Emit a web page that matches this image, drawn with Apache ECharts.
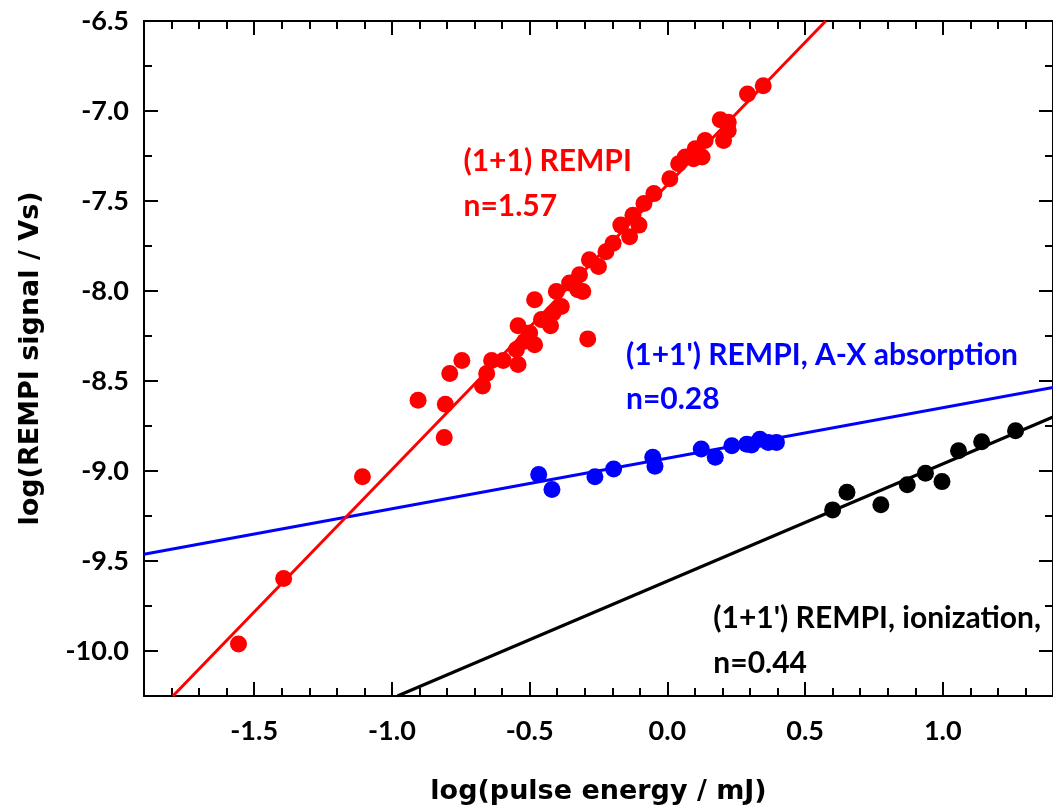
<!DOCTYPE html>
<html><head><meta charset="utf-8">
<script src="https://cdn.jsdelivr.net/npm/echarts@6/dist/echarts.min.js"></script>
<style>html,body{margin:0;padding:0;background:#fff}#c{width:1053px;height:810px}</style>
</head><body><div id="c"></div>
<script>
// ---- data ----
const xMajorTicks = [-1.5, -1.0, -0.5, 0.0, 0.5, 1.0];
const xMinorTicks = [-1.8,-1.7,-1.6,-1.4,-1.3,-1.2,-1.1,-0.9,-0.8,-0.7,-0.6,-0.4,-0.3,-0.2,-0.1,0.1,0.2,0.3,0.4,0.6,0.7,0.8,0.9,1.1,1.2,1.3];
const yMajorTicks = [-10.0, -9.5, -9.0, -8.5, -8.0, -7.5, -7.0, -6.5];
const yMinorTicks = [-10.25, -9.75, -9.25, -8.75, -8.25, -7.75, -7.25, -6.75];

const redPoints = [
  [-1.557,-9.961],[-1.393,-9.597],[-1.107,-9.032],[-0.905,-8.607],[-0.810,-8.814],
  [-0.806,-8.629],[-0.790,-8.458],[-0.746,-8.386],[-0.671,-8.528],[-0.656,-8.458],
  [-0.638,-8.386],[-0.596,-8.386],[-0.542,-8.408],[-0.548,-8.325],[-0.542,-8.193],
  [-0.518,-8.279],[-0.482,-8.298],[-0.500,-8.233],[-0.482,-8.049],[-0.457,-8.159],
  [-0.424,-8.193],[-0.415,-8.122],[-0.385,-8.086],[-0.289,-8.266],[-0.403,-8.003],
  [-0.355,-7.956],[-0.325,-7.993],[-0.307,-8.003],[-0.319,-7.910],[-0.283,-7.827],
  [-0.250,-7.864],[-0.223,-7.782],[-0.197,-7.735],[-0.169,-7.634],[-0.137,-7.699],
  [-0.125,-7.579],[-0.103,-7.634],[-0.085,-7.514],[-0.049,-7.459],[0.009,-7.376],
  [0.041,-7.293],[0.065,-7.256],[0.095,-7.265],[0.101,-7.210],[0.126,-7.256],
  [0.137,-7.164],[0.192,-7.049],[0.204,-7.164],[0.221,-7.062],[0.221,-7.108],
  [0.291,-6.905],[0.348,-6.860]
];
const bluePoints = [
  [-0.467,-9.020],[-0.419,-9.103],[-0.263,-9.032],[-0.195,-8.989],[-0.053,-8.924],
  [-0.045,-8.974],[0.123,-8.878],[0.174,-8.924],[0.234,-8.860],[0.288,-8.851],
  [0.306,-8.855],[0.336,-8.823],[0.366,-8.841],[0.396,-8.841]
];
const blackPoints = [
  [0.600,-9.216],[0.652,-9.118],[0.775,-9.188],[0.871,-9.077],[0.937,-9.013],
  [0.997,-9.059],[1.057,-8.888],[1.141,-8.838],[1.264,-8.777]
];
const redFit = [[-1.795,-10.25],[0.575,-6.5]];
const blueFit = [[-1.9,-9.463],[1.4,-8.536]];
const blackFit = [[-0.98,-10.25],[1.4,-8.70]];

const annotations = [
  {text:'(1+1) REMPI', pos:[-0.742,-7.280], color:'#ff0000'},
  {text:'n=1.57', pos:[-0.742,-7.530], color:'#ff0000'},
  {text:"(1+1') REMPI, A-X absorption", pos:[-0.152,-8.355], color:'#0000ff'},
  {text:'n=0.28', pos:[-0.152,-8.604], color:'#0000ff'},
  {text:"(1+1') REMPI, ionization,", pos:[0.165,-9.818], color:'#000000'},
  {text:'n=0.44', pos:[0.165,-10.067], color:'#000000'}
];

const FONT = 'Lato';
const TITLE_FONT = 'DejaVu Sans';
const chart = echarts.init(document.getElementById('c'), null, {renderer:'canvas'});

function xAx(pos, ticks, len, showLine, labels) {
  return {
    type:'value', position:pos, min:-1.9, max:1.4, gridIndex:0,
    axisLine:{show:showLine, onZero:false, lineStyle:{color:'#000', width:2}},
    axisTick:{show:true, inside:true, length:len, customValues:ticks, lineStyle:{color:'#000', width:2}},
    axisLabel: labels ? {show:true, customValues:xMajorTicks, margin:22, color:'#000',
      fontFamily:FONT, fontWeight:'bold', fontSize:27, formatter:v=>v.toFixed(1)} : {show:false},
    splitLine:{show:false}, minorTick:{show:false}
  };
}
function yAx(pos, ticks, len, showLine, labels) {
  return {
    type:'value', position:pos, min:-10.25, max:-6.5, gridIndex:0,
    axisLine:{show:showLine, onZero:false, lineStyle:{color:'#000', width:2}},
    axisTick:{show:true, inside:true, length:len, customValues:ticks, lineStyle:{color:'#000', width:2}},
    axisLabel: labels ? {show:true, customValues:yMajorTicks, margin:15, color:'#000',
      fontFamily:FONT, fontWeight:'bold', fontSize:27, formatter:v=>v.toFixed(1)} : {show:false},
    splitLine:{show:false}, minorTick:{show:false}
  };
}

const xAxes = [
  Object.assign(xAx('bottom', xMajorTicks, 14, true, true), {
    name:'log(pulse energy / mJ)', nameLocation:'middle', nameGap:82,
    nameTextStyle:{color:'#000', fontFamily:TITLE_FONT, fontWeight:'bold', fontSize:27}
  }),
  xAx('bottom', xMinorTicks, 8, false, false),
  xAx('top', xMajorTicks, 14, true, false),
  xAx('top', xMinorTicks, 8, false, false)
];
const yAxes = [
  Object.assign(yAx('left', yMajorTicks, 14, true, true), {
    name:'log(REMPI signal / Vs)', nameLocation:'middle', nameGap:100,
    nameTextStyle:{color:'#000', fontFamily:TITLE_FONT, fontWeight:'bold', fontSize:27}
  }),
  yAx('left', yMinorTicks, 8, false, false),
  yAx('right', yMajorTicks, 14, true, false),
  yAx('right', yMinorTicks, 8, false, false)
];

function scatter(data, color) {
  return {type:'scatter', data:data, symbol:'circle', symbolSize:17, xAxisIndex:0, yAxisIndex:0,
    itemStyle:{color:color, opacity:1}, silent:true, z:3};
}
function fit(data, color) {
  return {type:'line', data:data, showSymbol:false, symbol:'none', xAxisIndex:0, yAxisIndex:0,
    lineStyle:{color:color, width:3}, silent:true, z:2, clip:true};
}

const series = [
  fit(blueFit,'#0000ff'), fit(blackFit,'#000000'), fit(redFit,'#ff0000'),
  scatter(bluePoints,'#0000ff'), scatter(blackPoints,'#000000'), scatter(redPoints,'#ff0000')
];
annotations.forEach(a => {
  series.push({type:'scatter', xAxisIndex:0, yAxisIndex:0, silent:true, z:5,
    symbolSize:1, itemStyle:{color:'rgba(0,0,0,0)', opacity:1},
    data:[{value:a.pos}],
    label:{show:true, position:'right', distance:0, align:'left', verticalAlign:'middle',
      formatter:a.text, color:a.color, opacity:1, fontFamily:FONT, fontWeight:'bold', fontSize:30}
  });
});

chart.setOption({
  animation:false,
  backgroundColor:'#ffffff',
  grid:{left:144, right:-8, top:21, bottom:112, containLabel:false},
  xAxis:xAxes, yAxis:yAxes, series:series
});
</script></body></html>
